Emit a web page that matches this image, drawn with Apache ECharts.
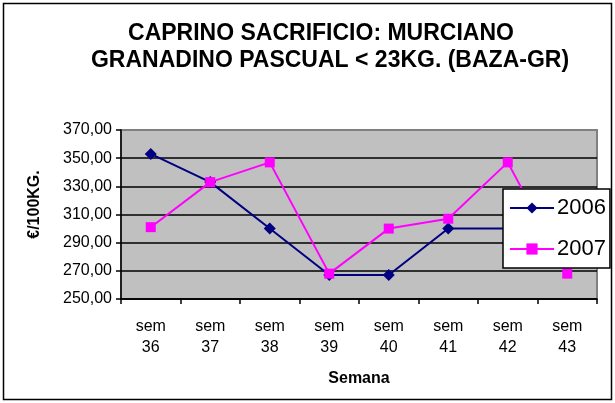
<!DOCTYPE html>
<html>
<head>
<meta charset="utf-8">
<script src="https://cdn.jsdelivr.net/npm/echarts@6/dist/echarts.min.js"></script>
<style>
  html, body { margin: 0; padding: 0; background: #fff; }
  #chart { width: 615px; height: 403px; }
</style>
</head>
<body>
<div id="chart"></div>
<script>
// weeks and prices (€/100kg)
var weeks = ["sem 36", "sem 37", "sem 38", "sem 39", "sem 40", "sem 41", "sem 42", "sem 43"];
var y2006 = [353, 333, 300, 267, 267, 300, 300, null];
var y2007 = [301, 333, 347, 268, 300, 307, 347, 268];
var yTicks = [250, 270, 290, 310, 330, 350, 370];

var font = "Liberation Sans, Arial, sans-serif";
var titleStyle = { fontSize: 23, fontWeight: "bold", color: "#000", lineHeight: 27, fontFamily: font };

var chart = echarts.init(document.getElementById("chart"));
chart.setOption({
  animation: false,
  textStyle: { fontFamily: font },
  // two title lines, each centred on its own spot like in the original
  title: [
    { text: "CAPRINO SACRIFICIO: MURCIANO", left: 321, top: 20, padding: 0, textAlign: "center", textStyle: titleStyle },
    { text: "GRANADINO PASCUAL < 23KG. (BAZA-GR)", left: 330, top: 47, padding: 0, textAlign: "center", textStyle: titleStyle }
  ],
  graphic: [{
    type: "rect",
    shape: { x: 3.5, y: 3.5, width: 608, height: 396 },
    style: { fill: null, stroke: "#000", lineWidth: 1.5 },
    silent: true
  }],
  legend: {
    orient: "vertical",
    left: 503,
    top: 189,
    padding: [8, 4, 8, 6],
    itemWidth: 44,
    itemHeight: 14,
    itemGap: 19,
    backgroundColor: "#fff",
    borderColor: "#000",
    borderWidth: 1.5,
    borderRadius: 0,
    textStyle: { fontSize: 22, color: "#000", fontFamily: font, padding: [0, 0, 0, -2] },
    data: ["2006", "2007"]
  },
  grid: {
    left: 121,
    right: 18,
    top: 130,
    bottom: 104,
    show: true,
    backgroundColor: "#C0C0C0",
    borderColor: "#808080",
    borderWidth: 2
  },
  xAxis: {
    type: "category",
    data: weeks,
    boundaryGap: true,
    name: "Semana",
    nameLocation: "middle",
    nameGap: 72,
    nameTextStyle: { fontSize: 16, fontWeight: "bold", color: "#000", fontFamily: font },
    axisLine: { lineStyle: { color: "#000", width: 1.5 } },
    axisTick: { show: true, length: 5, lineStyle: { color: "#000", width: 1.5 } },
    axisLabel: {
      color: "#000",
      fontSize: 16,
      lineHeight: 21,
      margin: 17,
      interval: 0,
      formatter: function (v) { return v.replace(" ", "\n"); }
    },
    splitLine: { show: false }
  },
  yAxis: {
    type: "value",
    min: yTicks[0],
    max: yTicks[yTicks.length - 1],
    interval: yTicks[1] - yTicks[0],
    name: "€/100KG.",
    nameLocation: "middle",
    nameGap: 78,
    nameRotate: 90,
    nameTextStyle: { fontSize: 16, fontWeight: "bold", color: "#000", fontFamily: font, padding: [0, 0, 0, 20] },
    axisLine: { show: true, lineStyle: { color: "#000", width: 1.5 } },
    axisTick: { show: true, length: 5, lineStyle: { color: "#000", width: 1.5 } },
    axisLabel: {
      color: "#000",
      fontSize: 16,
      margin: 9,
      formatter: function (v) { return v.toFixed(2).replace(".", ","); }
    },
    // top edge is the grey plot border, not a black grid line
    splitLine: { show: true, showMaxLine: false, lineStyle: { color: "#000", width: 1.5 } }
  },
  series: [
    {
      name: "2006",
      type: "line",
      data: y2006,
      color: "#000080",
      symbol: "diamond",
      symbolSize: 12,
      lineStyle: { width: 2, color: "#000080" },
      itemStyle: { color: "#000080" }
    },
    {
      name: "2007",
      type: "line",
      data: y2007,
      color: "#FF00FF",
      symbol: "rect",
      symbolSize: 10,
      lineStyle: { width: 2, color: "#FF00FF" },
      itemStyle: { color: "#FF00FF" }
    }
  ]
});
</script>
</body>
</html>
